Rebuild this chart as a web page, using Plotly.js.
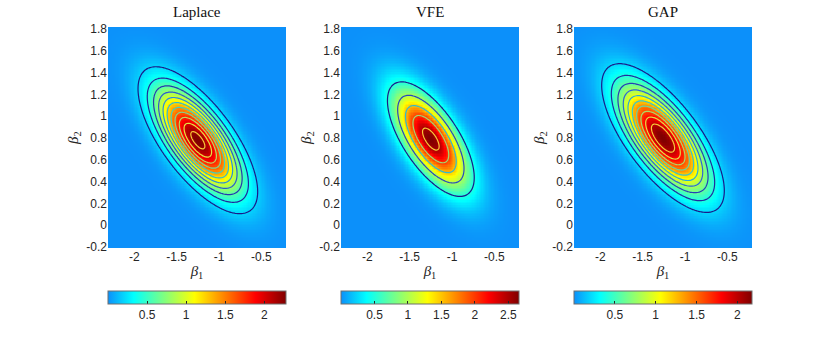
<!DOCTYPE html>
<html>
<head>
<meta charset="utf-8">
<script src="https://cdn.plot.ly/plotly-3.0.1.min.js"></script>
<style>
  html, body { margin: 0; padding: 0; background: #ffffff; }
  #plot { width: 830px; height: 356px; }
</style>
</head>
<body>
<div id="plot"></div>
<script>
// panel names
const panelNames = ["Laplace", "VFE", "GAP"];

// Gaussian parameters: mean, std devs, correlation
const meanB1 = [-1.25, -1.25, -1.26];
const meanB2 = [0.78, 0.79, 0.80];
const sdB1 = [0.320, 0.280, 0.331];
const sdB2 = [0.306, 0.288, 0.3125];
const rho = [-0.70, -0.67, -0.708];

// contour levels (step) per panel
const contourStep = [0.2, 0.5, 0.2];

// ticks
const xTicks = [-2, -1.5, -1, -0.5];
const xTickText = ["-2", "-1.5", "-1", "-0.5"];
const yTicks = [-0.2, 0, 0.2, 0.4, 0.6, 0.8, 1, 1.2, 1.4, 1.6, 1.8];
const yTickText = ["-0.2", "0", "0.2", "0.4", "0.6", "0.8", "1", "1.2", "1.4", "1.6", "1.8"];
const cbTicks = [[0.5, 1, 1.5, 2], [0.5, 1, 1.5, 2, 2.5], [0.5, 1, 1.5, 2]];

const X_RANGE = [-2.31, -0.21];
const Y_RANGE = [-0.21, 1.82];
const N_GRID = 141;

// jet, lower part cut off
const JET = [
  [0, "#0c90fa"],
  [0.1438, "#00ffff"],
  [0.4863, "#ffff00"],
  [0.8288, "#ff0000"],
  [1, "#800000"]
];

// colours of the contour lines
const LINE_SCALE = [
  [0, "#1a1a8a"],
  [0.2, "#2438b0"],
  [0.35, "#2a6ee0"],
  [0.45, "#28b0d8"],
  [0.6, "#40d0c0"],
  [0.75, "#a0d870"],
  [0.9, "#e8e040"],
  [1, "#f8c838"]
];

function gaussGrid(k) {
  const xs = [], ys = [];
  for (let i = 0; i < N_GRID; i++) {
    xs.push(X_RANGE[0] + (X_RANGE[1] - X_RANGE[0]) * i / (N_GRID - 1));
    ys.push(Y_RANGE[0] + (Y_RANGE[1] - Y_RANGE[0]) * i / (N_GRID - 1));
  }
  const sx = sdB1[k], sy = sdB2[k], r = rho[k];
  const norm = 1 / (2 * Math.PI * sx * sy * Math.sqrt(1 - r * r));
  const z = ys.map(y => xs.map(x => {
    const u = (x - meanB1[k]) / sx;
    const v = (y - meanB2[k]) / sy;
    const q = (u * u - 2 * r * u * v + v * v) / (1 - r * r);
    return norm * Math.exp(-0.5 * q);
  }));
  return { xs: xs, ys: ys, z: z, peak: norm };
}

const W = 830, H = 356;
const axLeft = [108, 341, 574];
const axWidth = 178;
const axTop = 27, axBottom = 248;
const cbTop = 291;

const traces = [];
const layout = {
  width: W,
  height: H,
  margin: { l: 0, r: 0, t: 0, b: 0 },
  paper_bgcolor: "#ffffff",
  plot_bgcolor: "#ffffff",
  showlegend: false,
  annotations: []
};

const tickFont = { family: "Liberation Sans, Arial, sans-serif", size: 12, color: "#262626" };
const labelFont = { family: "Liberation Serif, DejaVu Serif, serif", size: 15, color: "#262626" };

for (let k = 0; k < 3; k++) {
  const g = gaussGrid(k);
  const sfx = k === 0 ? "" : String(k + 1);
  const xa = "x" + sfx, ya = "y" + sfx;

  traces.push({
    type: "heatmap",
    x: g.xs,
    y: g.ys,
    z: g.z,
    xaxis: xa,
    yaxis: ya,
    colorscale: JET,
    zmin: 0,
    zmax: g.peak,
    hoverinfo: "skip",
    colorbar: {
      orientation: "h",
      x: axLeft[k] / W,
      xanchor: "left",
      y: 1 - cbTop / H,
      yanchor: "top",
      lenmode: "pixels",
      len: axWidth,
      thicknessmode: "pixels",
      thickness: 13,
      xpad: 0,
      ypad: 0,
      outlinecolor: "#6e6e6e",
      outlinewidth: 1,
      ticks: "inside",
      ticklen: 3,
      tickcolor: "#262626",
      tickvals: cbTicks[k],
      ticktext: cbTicks[k].map(String),
      tickfont: tickFont
    }
  });

  const levels = Math.floor(g.peak / contourStep[k]) * contourStep[k];
  traces.push({
    type: "contour",
    x: g.xs,
    y: g.ys,
    z: g.z,
    xaxis: xa,
    yaxis: ya,
    autocontour: false,
    contours: { coloring: "lines", start: contourStep[k], end: levels + 1e-6, size: contourStep[k] },
    colorscale: LINE_SCALE,
    zmin: 0,
    zmax: g.peak,
    line: { width: 1.2, smoothing: 1 },
    showscale: false,
    hoverinfo: "skip"
  });

  layout["xaxis" + sfx] = {
    domain: [axLeft[k] / W, (axLeft[k] + axWidth) / W],
    anchor: ya,
    range: X_RANGE,
    tickvals: xTicks,
    ticktext: xTickText,
    tickfont: tickFont,
    ticks: "",
    showgrid: false,
    zeroline: false,
    showline: false,
    title: { text: "<i>β</i><sub>1</sub>", font: labelFont, standoff: 2 }
  };
  layout["yaxis" + sfx] = {
    domain: [1 - axBottom / H, 1 - axTop / H],
    anchor: xa,
    range: Y_RANGE,
    tickvals: yTicks,
    ticktext: yTickText,
    tickfont: tickFont,
    ticks: "",
    showgrid: false,
    zeroline: false,
    showline: false,
    title: { text: "<i>β</i><sub>2</sub>", font: labelFont, standoff: 4 }
  };

  layout.annotations.push({
    text: panelNames[k],
    xref: "paper",
    yref: "paper",
    x: (axLeft[k] + axWidth / 2) / W,
    y: 1 - 12 / H,
    xanchor: "center",
    yanchor: "middle",
    showarrow: false,
    font: { family: "Liberation Serif, DejaVu Serif, serif", size: 15, color: "#111111" }
  });
}

Plotly.newPlot("plot", traces, layout, { displayModeBar: false, staticPlot: true });
</script>
</body>
</html>
